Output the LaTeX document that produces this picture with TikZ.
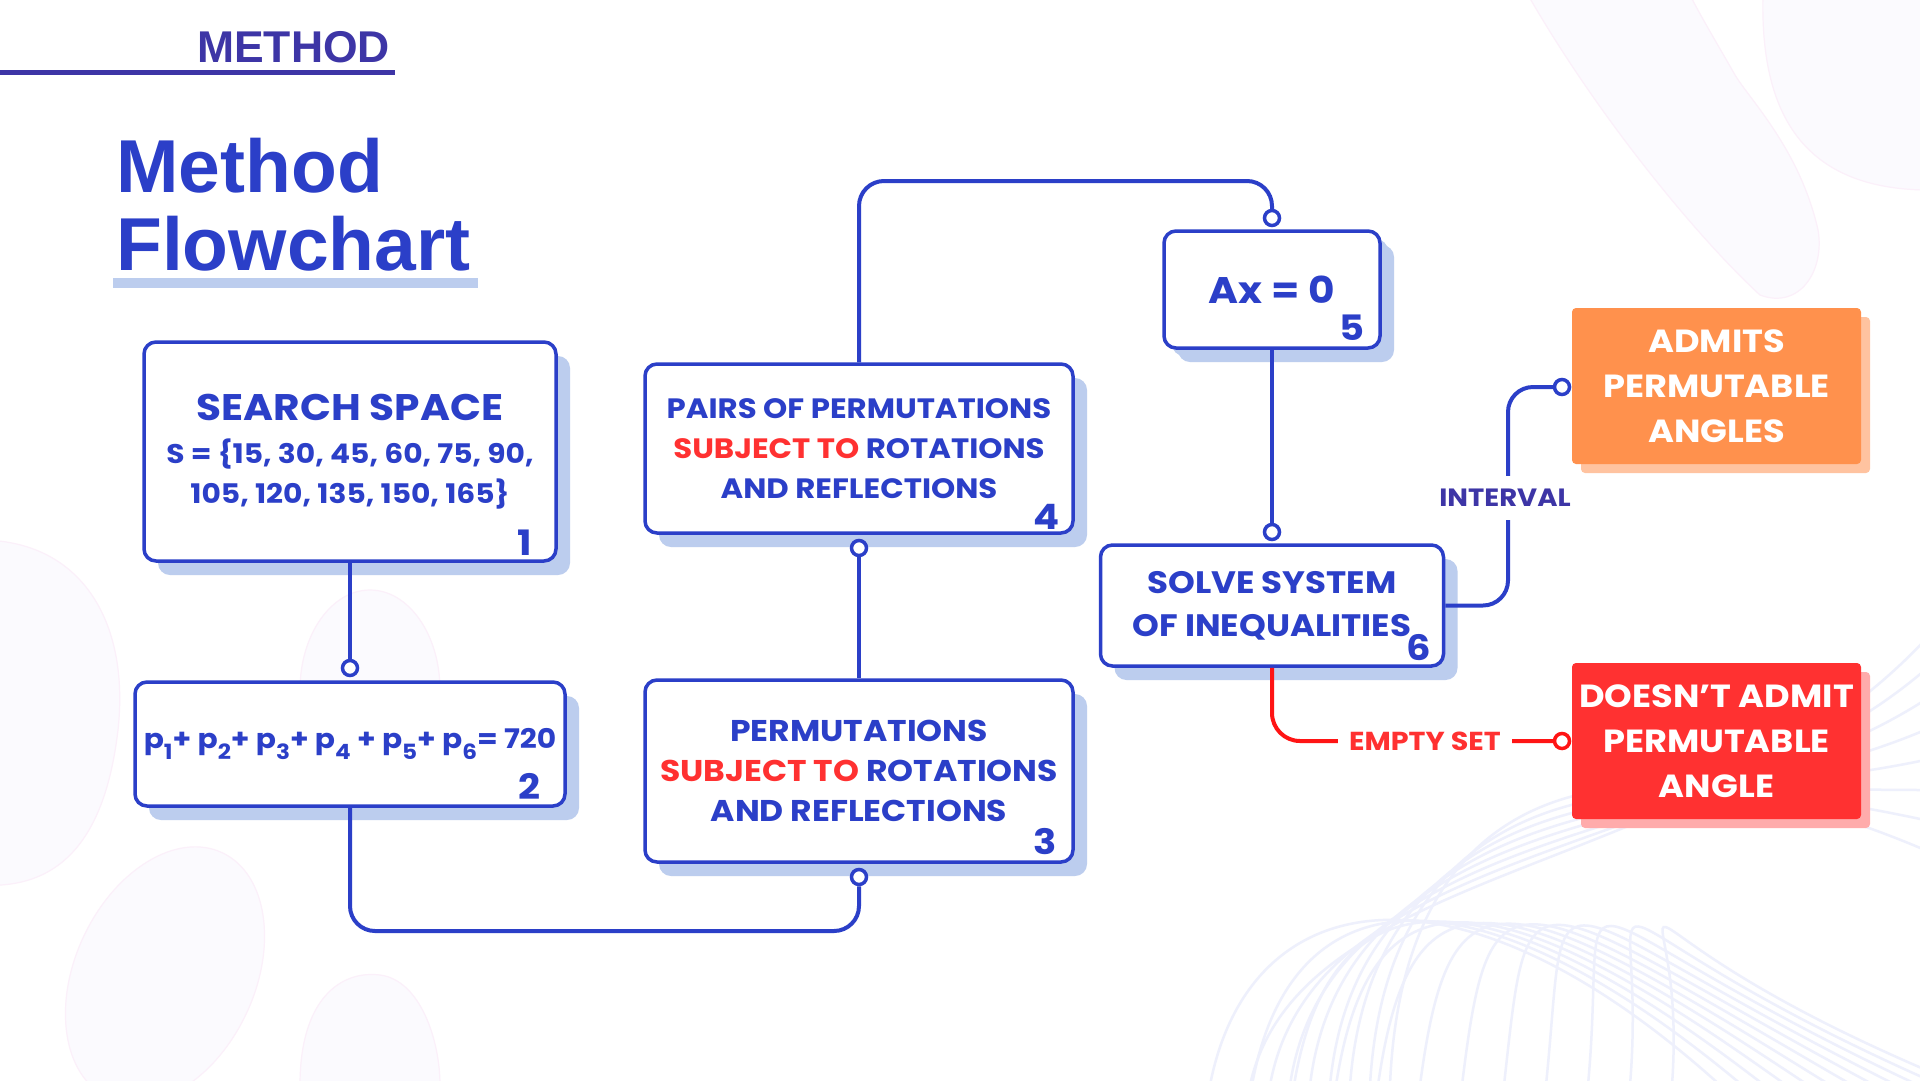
\documentclass[tikz,border=0pt]{standalone}
\usepackage{fontspec}
\setmainfont{Poppins}[FakeStretch=1.1]
\newfontfamily\headfont{Liberation Sans}
\usetikzlibrary{shadows,calc}

\definecolor{flowblue}{HTML}{2B3FC8}
\definecolor{indigo}{HTML}{3D35A6}
\definecolor{shadowblue}{HTML}{BCCDEE}
\definecolor{accentred}{HTML}{FF3131}
\definecolor{wirered}{HTML}{FF1414}
\definecolor{okorange}{HTML}{FF914D}
\definecolor{okshadow}{HTML}{FFC3A0}
\definecolor{noshadow}{HTML}{FFABAB}
\definecolor{blobfill}{HTML}{FBFAFE}
\definecolor{blobedge}{HTML}{FBF0FA}
\definecolor{waveline}{HTML}{EEF0FC}

\newcommand\psub[1]{p\raisebox{-11pt}{\fontsize{21}{21}\selectfont #1}}
\newcommand\hl[1]{\textcolor{accentred}{#1}}

\tikzset{
  stepbox/.style={draw=flowblue, line width=3.5pt, rounded corners=12pt,
    fill=white, align=center, text=flowblue, inner sep=0pt,
    drop shadow={shadow xshift=14pt, shadow yshift=-14pt, fill=shadowblue, opacity=1}},
  outbox/.style={rounded corners=4pt, align=center, text=white, inner sep=0pt,
    font=\fontsize{32}{45}\selectfont\bfseries},
  stepnum/.style={text=flowblue, font=\fontsize{35}{35}\selectfont\bfseries, inner sep=0pt},
  wire/.style={draw=flowblue, line width=4pt, rounded corners=25pt},
  redwire/.style={draw=wirered, line width=4pt, rounded corners=28pt},
  port/.style={circle, draw=flowblue, fill=white, line width=3.5pt,
    minimum size=15pt, inner sep=0pt},
  redport/.style={port, draw=wirered},
  branch/.style={fill=white, font=\fontsize{24}{24}\selectfont\bfseries},
  blob/.style={fill=blobfill, draw=blobedge, line width=1.2pt},
  wave/.style={draw=waveline, line width=2.5pt}
}

\begin{document}
\begin{tikzpicture}[x=1pt, y=-1pt]
  % canvas
  \useasboundingbox (0,0) rectangle (1920,1080);
  \fill[white] (0,0) rectangle (1920,1080);

  % soft background blobs
  \draw[blob] (-20,540) .. controls (80,540) and (130,620) .. (118,730)
     .. controls (105,840) and (60,890) .. (-20,885) -- cycle;
  \draw[blob] (370,690) ellipse (70 and 100);
  \draw[blob, rotate around={-25:(165,975)}] (165,975) ellipse (90 and 135);
  \draw[blob] (300,1085) .. controls (300,1000) and (340,970) .. (380,975)
     .. controls (420,980) and (440,1040) .. (440,1085) -- cycle;
  \draw[blob] (1528,-5) .. controls (1600,120) and (1700,240) .. (1760,295)
     .. controls (1800,310) and (1825,270) .. (1818,230)
     .. controls (1800,150) and (1750,100) .. (1735,75)
     .. controls (1715,40) and (1700,15) .. (1690,-5) -- cycle;
  \draw[blob] (1763,-5) .. controls (1760,110) and (1800,188) .. (1925,190)
     -- (1925,-5) -- cycle;

  % flowing lines, lower right
  \foreach \i in {0,...,11} {
    \draw[wave] (1210+42*\i,1085) .. controls (1250+40*\i,880-4*\i)
       and (1460+8*\i,850+6*\i) .. (1720+22*\i,1085);
  }
  \foreach \i in {0,...,7} {
    \draw[wave] (1250+20*\i,1085) .. controls (1300+15*\i,860-20*\i)
       and (1700,880-18*\i) .. (1925,640+30*\i);
  }

  % section header
  \node[anchor=base west, inner sep=0pt, text=indigo,
        font=\headfont\fontsize{44.5}{44.5}\selectfont\bfseries] (hdr) at (197,62) {METHOD};
  \draw[indigo, line width=5pt] (0,72) -- (395,72);

  % title
  \fill[shadowblue] (113,278) rectangle (478,288);
  \node[anchor=base west, inner sep=0pt, text=flowblue,
        font=\headfont\fontsize{75}{75}\selectfont\bfseries] (t1) at (116,192) {Method};
  \node[anchor=base west, inner sep=0pt, text=flowblue,
        font=\headfont\fontsize{75}{75}\selectfont\bfseries] (t2) at (116,270) {Flowchart};

  % step boxes
  \node[stepbox, minimum width=412pt, minimum height=219pt,
        font=\fontsize{27}{40}\selectfont\bfseries] (b1) at (350,451.5)
    {{\fontsize{37}{40}\selectfont SEARCH SPACE}\\[3pt]
     S = \{15, 30, 45, 60, 75, 90,\\105, 120, 135, 150, 165\}};
  \node[stepbox, minimum width=430pt, minimum height=124pt,
        font=\fontsize{27}{30}\selectfont\bfseries] (b2) at (350,744)
    {\psub{1}+ \psub{2}+ \psub{3}+ \psub{4} + \psub{5}+ \psub{6}= 720};
  \node[stepbox, minimum width=428pt, minimum height=169pt,
        font=\fontsize{28}{40}\selectfont\bfseries] (b4) at (859,448.5)
    {PAIRS OF PERMUTATIONS\\\hl{SUBJECT TO} ROTATIONS\\AND REFLECTIONS};
  \node[stepbox, minimum width=428pt, minimum height=182pt,
        font=\fontsize{30}{40}\selectfont\bfseries] (b3) at (859,771)
    {PERMUTATIONS\\\hl{SUBJECT TO} ROTATIONS\\AND REFLECTIONS};
  \node[stepbox, minimum width=216pt, minimum height=117pt,
        drop shadow={shadow xshift=8pt, shadow yshift=-8pt, fill=shadowblue, opacity=1},
        font=\fontsize{37}{37}\selectfont\bfseries] (b5) at (1272,289.5)
    {Ax = 0};
  \node[stepbox, minimum width=343pt, minimum height=121pt,
        font=\fontsize{31}{43}\selectfont\bfseries] (b6) at (1272,605.5)
    {SOLVE SYSTEM\\OF INEQUALITIES};

  % step numbers
  \node[stepnum] (n1) at ([shift={(-33,-20)}]b1.south east) {1};
  \node[stepnum] (n2) at ([shift={(-37,-21)}]b2.south east) {2};
  \node[stepnum] (n3) at ([shift={(-30,-22)}]b3.south east) {3};
  \node[stepnum] (n4) at ([shift={(-28,-18)}]b4.south east) {4};
  \node[stepnum] (n5) at ([shift={(-30,-22)}]b5.south east) {5};
  \node[stepnum] (n6) at ([shift={(-27,-20)}]b6.south east) {6};

  % outcomes
  \node[outbox, fill=okorange, minimum width=289pt, minimum height=156pt,
        drop shadow={shadow xshift=9pt, shadow yshift=-9pt, fill=okshadow, opacity=1}]
        (yes) at (1716.5,386) {ADMITS\\PERMUTABLE\\ANGLES};
  \node[outbox, fill=accentred, minimum width=289pt, minimum height=156pt,
        drop shadow={shadow xshift=9pt, shadow yshift=-9pt, fill=noshadow, opacity=1}]
        (no) at (1716.5,741) {DOESN’T ADMIT\\PERMUTABLE\\ANGLE};

  % connection ports
  \node[port] (p2) at (350,668) {};
  \node[port] (p4) at (859,548) {};
  \node[port] (p3) at (859,877) {};
  \node[port] (p5) at (1272,218) {};
  \node[port] (p6) at (1272,532) {};
  \node[port] (pyes) at (1562,387) {};
  \node[redport] (pno) at (1562,741) {};

  % bends of the connectors
  \coordinate (k1) at (350,931);
  \coordinate (k2) at (859,931);
  \coordinate (k3) at (859,181);
  \coordinate (k4) at (1272,181);
  \coordinate (k5) at (1508,605.5);
  \coordinate (k6) at (1508,387);
  \coordinate (k7) at (1272,741);

  % connectors
  \draw[wire] (b1.south) -- (p2);
  \draw[wire] (b2.south) -- (k1) -- (k2) -- (p3);
  \draw[wire] (p4) -- (b3.north);
  \draw[wire] (b4.north) -- (k3) -- (k4) -- (p5);
  \draw[wire] (b5.south) -- (p6);
  \draw[wire] (b6.east) -- (k5) -- (k6) -- (pyes);
  \draw[redwire] (b6.south) -- (k7) -- (pno);

  % branch labels
  \node[branch, text=indigo, font=\fontsize{25}{25}\selectfont\bfseries,
        inner xsep=4pt, inner ysep=13pt] (lint) at (1505,498) {INTERVAL};
  \node[branch, text=accentred, font=\fontsize{26}{26}\selectfont\bfseries,
        inner xsep=11pt, inner ysep=4pt] (lempty) at (1425,741) {EMPTY SET};
\end{tikzpicture}
\end{document}
